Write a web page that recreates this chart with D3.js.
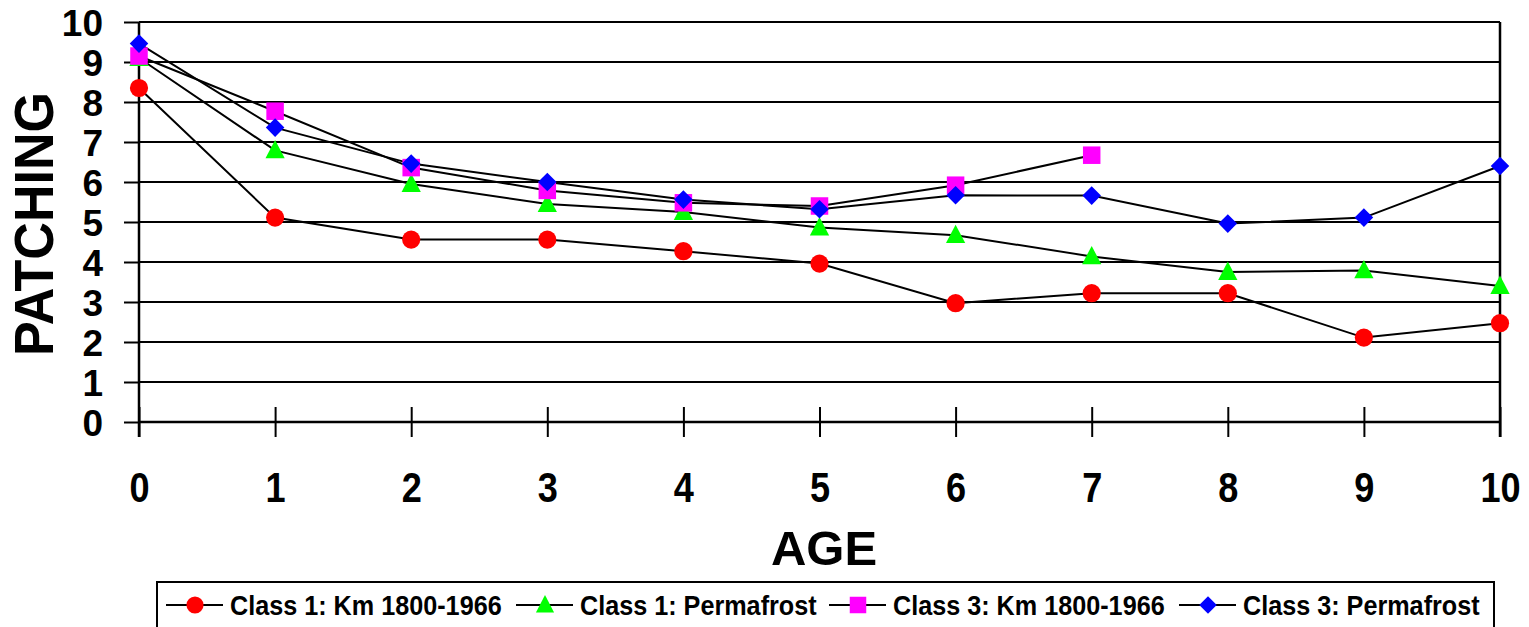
<!DOCTYPE html>
<html><head><meta charset="utf-8">
<script src="https://cdn.jsdelivr.net/npm/d3@7"></script>
<style>
html,body{margin:0;padding:0;background:#fff;}
svg text{font-family:"Liberation Sans",Arial,sans-serif;font-weight:bold;fill:#000;}
</style></head>
<body><svg id="c" width="1529" height="627"></svg>
<script>
const ages = [0,1,2,3,4,5,6,7,8,9,10];
const yTicks = [0,1,2,3,4,5,6,7,8,9,10];
const class1Km = [8.35,5.11,4.56,4.56,4.27,3.96,2.97,3.22,3.22,2.11,2.47];
const class1Perma = [9.1,6.79,5.95,5.45,5.25,4.86,4.67,4.14,3.75,3.79,3.4];
const class3Km = [9.15,7.77,6.36,5.79,5.48,5.40,5.92,6.67,null,null,null];
const class3Perma = [9.46,7.36,6.46,6.0,5.56,5.32,5.67,5.66,4.96,5.11,6.4];
const seriesNames = ["Class 1: Km 1800-1966","Class 1: Permafrost","Class 3: Km 1800-1966","Class 3: Permafrost"];
const seriesColors = ["#ff0000","#00ff00","#ff00ff","#0000ff"];
const seriesShapes = ["circle","triangle","square","diamond"];
const seriesValues = [class1Km, class1Perma, class3Km, class3Perma];
const xTitle = "AGE", yTitle = "PATCHING";

const svg = d3.select("#c");
const x = d3.scaleLinear().domain([0,10]).range([139,1500]);
const y = d3.scaleLinear().domain([0,10]).range([422,22]);

// y axis: ticks outward, labels
const yAxis = d3.axisLeft(y).tickValues(yTicks).tickSize(15).tickFormat(d=>d);
const gy = svg.append("g").attr("transform","translate(139,0)").call(yAxis);
gy.select(".domain").remove();
gy.selectAll(".tick line").attr("stroke","#000").attr("stroke-width",2);
gy.selectAll(".tick text").attr("x",-36).attr("dy","0.36em").style("font-size","37px");
// full gridlines
svg.append("g").selectAll("line").data(yTicks).join("line")
  .attr("x1",139).attr("x2",1500).attr("y1",d=>y(d)).attr("y2",d=>y(d))
  .attr("stroke","#000").attr("stroke-width",d=>d===0?2.5:2);

// x axis ticks crossing the axis
const xAxis = d3.axisBottom(x).tickValues(ages).tickSizeInner(15).tickSizeOuter(0).tickFormat(d=>d);
const gx = svg.append("g").attr("transform","translate(0,422)").call(xAxis);
gx.select(".domain").remove();
gx.selectAll(".tick line").attr("y1",-15).attr("y2",15).attr("stroke","#000").attr("stroke-width",2);
gx.selectAll(".tick text").attr("y",0).attr("dy",0)
  .attr("transform","translate(0,80) scale(0.86,1)").style("font-size","42px");

// vertical axis lines
svg.append("line").attr("x1",x(0)).attr("x2",x(0)).attr("y1",y(10)).attr("y2",437).attr("stroke","#000").attr("stroke-width",2.5);
svg.append("line").attr("x1",x(10)).attr("x2",x(10)).attr("y1",y(10)).attr("y2",437).attr("stroke","#000").attr("stroke-width",2.5);

// titles
svg.append("text").attr("x",824).attr("y",565).attr("text-anchor","middle").style("font-size","49px").text(xTitle);
svg.append("text").attr("transform","translate(53,224) rotate(-90) scale(0.93,1)").attr("text-anchor","middle").style("font-size","56px").text(yTitle);

// marker drawing
function marker(g, shape, color, s){
  if(shape==="circle") g.append("circle").attr("r",s*0.52).attr("fill",color);
  else if(shape==="square") g.append("rect").attr("x",-s/2).attr("y",-s/2).attr("width",s).attr("height",s).attr("fill",color);
  else if(shape==="triangle"){const h=s,w=s*1.1; g.append("path").attr("d",`M0,${-h*0.6}L${w/2},${h*0.45}L${-w/2},${h*0.45}Z`).attr("fill",color);}
  else if(shape==="diamond"){const a=s*0.53; g.append("path").attr("d",`M0,${-a}L${a},0L0,${a}L${-a},0Z`).attr("fill",color);}
}

const line = d3.line().defined(d=>d[1]!=null).x(d=>x(d[0])).y(d=>y(d[1]));
seriesValues.forEach((vals,i)=>{
  const pts = ages.map((a,j)=>[a,vals[j]]);
  svg.append("path").attr("d",line(pts)).attr("fill","none").attr("stroke","#000").attr("stroke-width",2);
});
seriesValues.forEach((vals,i)=>{
  const pts = ages.map((a,j)=>[a,vals[j]]).filter(d=>d[1]!=null);
  pts.forEach(p=>{
    const g = svg.append("g").attr("transform",`translate(${x(p[0])},${y(p[1])})`);
    marker(g, seriesShapes[i], seriesColors[i], 17.5);
  });
});

// legend
svg.append("rect").attr("x",157).attr("y",582).attr("width",1337).attr("height",70)
  .attr("fill","#fff").attr("stroke","#000").attr("stroke-width",2);
const legTextX = [230,580,893,1243];
seriesNames.forEach((n,i)=>{
  const g = svg.append("g").attr("transform",`translate(${legTextX[i]},605)`);
  g.append("line").attr("x1",-64).attr("x2",-7).attr("y1",0).attr("y2",0).attr("stroke","#000").attr("stroke-width",2);
  const m = g.append("g").attr("transform","translate(-35,0)");
  marker(m, seriesShapes[i], seriesColors[i], 16.5);
  g.append("text").attr("transform","scale(0.9,1)").attr("x",0).attr("y",0).attr("dy","0.36em").style("font-size","28px").text(n);
});
</script></body></html>
